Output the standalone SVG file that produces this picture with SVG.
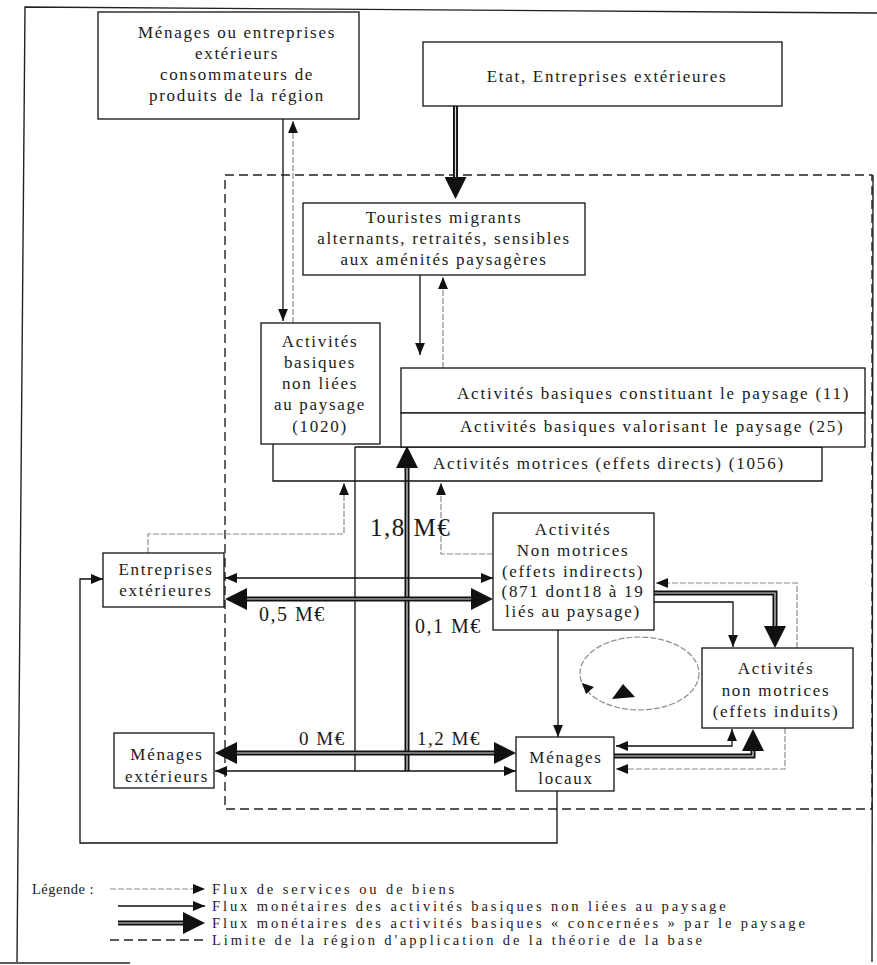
<svg xmlns="http://www.w3.org/2000/svg" width="877" height="965" viewBox="0 0 877 965">
<style>
.box{fill:#fff;stroke:#111;stroke-width:1.3}
.open{fill:none;stroke:#111;stroke-width:1.3}
.t{font-family:"Liberation Serif","Times New Roman",serif;font-size:17px;letter-spacing:1.7px;fill:#1a1a1a;text-anchor:middle}
.ts{font-family:"Liberation Serif","Times New Roman",serif;font-size:17px;letter-spacing:1.8px;fill:#1a1a1a}
.lg{font-family:"Liberation Serif","Times New Roman",serif;font-size:14.5px;letter-spacing:2.9px;fill:#1a1a1a}
.lgh{font-family:"Liberation Serif","Times New Roman",serif;font-size:14.5px;letter-spacing:0.5px;fill:#1a1a1a}
.mv{font-family:"Liberation Serif","Times New Roman",serif;letter-spacing:1.5px;fill:#1a1a1a}
.thin{fill:none;stroke:#111;stroke-width:1.3}
.grey{fill:none;stroke:#8c8c8c;stroke-width:1.2;stroke-dasharray:6 2}
.thk{fill:none;stroke:#111;stroke-width:5}
.thkin{fill:none;stroke:#ddd;stroke-width:1.2}
.region{fill:none;stroke:#222;stroke-width:1.4;stroke-dasharray:9 5}
.frame{fill:none;stroke:#222;stroke-width:1.4}
</style>
<defs>
<marker id="ah" markerUnits="userSpaceOnUse" markerWidth="12" markerHeight="10" viewBox="0 0 11 9" refX="11" refY="4.5" orient="auto-start-reverse"><path d="M0,0 L11,4.5 L0,9 z" fill="#111"/></marker>
<marker id="bh" markerUnits="userSpaceOnUse" markerWidth="22" markerHeight="22" viewBox="0 0 22 22" refX="0" refY="11" orient="auto-start-reverse"><path d="M0,0 L22,11 L0,22 z" fill="#111"/></marker>
</defs>
<rect width="877" height="965" fill="#fff"/>

<g id="frame">
<path class="frame" d="M17,962 L25,7 L877,13"/>
<path class="frame" d="M873,175 L872,962"/>
<path class="frame" d="M0,963 H130"/>
<rect id="region" class="region" x="225" y="175" width="647" height="634"/>
</g>

<g id="connectors">
<path class="thin" d="M283,119 V321" marker-end="url(#ah)"/>
<path class="grey" d="M293,323 V121" marker-end="url(#ah)"/>
<path class="thk" d="M455.5,106 V177" marker-end="url(#bh)"/>
<path class="thkin" d="M455.5,106 V177"/>
<path class="thin" d="M420,275 V355" marker-end="url(#ah)"/>
<path class="grey" d="M443,368 V277" marker-end="url(#ah)"/>
<path class="thin" d="M355,447 V771"/>
<path class="thk" d="M407,771 V468" marker-end="url(#bh)"/>
<path class="thkin" d="M407,771 V468"/>
<path class="thin" d="M225,578 H493" marker-start="url(#ah)" marker-end="url(#ah)"/>
<path class="thk" d="M247,599 H471" marker-start="url(#bh)" marker-end="url(#bh)"/>
<path class="thkin" d="M247,599 H471"/>
<path class="thk" d="M237,753 H494" marker-start="url(#bh)" marker-end="url(#bh)"/>
<path class="thkin" d="M237,753 H494"/>
<path class="thin" d="M215,771 H516" marker-start="url(#ah)" marker-end="url(#ah)"/>
<path class="thin" d="M558,630 V737" marker-end="url(#ah)"/>
<path class="thin" d="M557,791 V843 H80 V579 H103" marker-end="url(#ah)"/>
<path class="grey" d="M148,553 V534 H344 V483" marker-end="url(#ah)"/>
<path class="grey" d="M493,554 H441 V483" marker-end="url(#ah)"/>
<path class="grey" d="M797,648 V583 H656" marker-end="url(#ah)"/>
<path class="thk" d="M654,593 H775 V626" marker-end="url(#bh)"/>
<path class="thkin" d="M654,593 H775 V626"/>
<path class="thin" d="M654,602 H733 V647" marker-end="url(#ah)"/>
<path class="thin" d="M616,746 H732 V729" marker-start="url(#ah)" marker-end="url(#ah)"/>
<path class="thk" d="M614,756 H753 V751" marker-end="url(#bh)"/>
<path class="thkin" d="M614,756 H753 V751"/>
<path class="grey" d="M785,728 V769 H616" marker-end="url(#ah)"/>
<ellipse class="grey" cx="639.5" cy="673.5" rx="59.5" ry="36.5"/>
<polygon points="582,683 594,687 586,694" fill="#111"/>
<polygon points="612,699 623,684 635,697" fill="#111"/>
</g>

<g id="labels">
<text class="mv" x="370" y="536" font-size="25">1,8 M€</text>
<text class="mv" x="259" y="621" font-size="20">0,5 M€</text>
<text class="mv" x="415" y="633" font-size="20">0,1 M€</text>
<text class="mv" x="299" y="745" font-size="19">0 M€</text>
<text class="mv" x="417" y="745" font-size="19">1,2 M€</text>
</g>

<g id="n-menages-ent-ext">
<rect class="box" x="98" y="12" width="261" height="107"/>
<text class="t" x="237" y="38">Ménages ou entreprises</text>
<text class="t" x="237" y="59">extérieurs</text>
<text class="t" x="237" y="80">consommateurs de</text>
<text class="t" x="237" y="101">produits de la région</text>
</g>

<g id="n-etat">
<rect class="box" x="423" y="42" width="359" height="64"/>
<text class="t" x="607" y="82">Etat, Entreprises extérieures</text>
</g>

<g id="n-touristes">
<rect class="box" x="303" y="203" width="282" height="72"/>
<text class="t" x="444" y="223">Touristes migrants</text>
<text class="t" x="444" y="244">alternants, retraités, sensibles</text>
<text class="t" x="444" y="265">aux aménités paysagères</text>
</g>

<g id="n-motrices">
<path class="open" d="M273,444 V481 H822 V447 H355"/>
<text class="ts" x="433" y="469">Activités motrices (effets directs) (1056)</text>
</g>

<g id="n-constituant">
<rect class="box" x="401" y="368" width="464" height="45"/>
<text class="ts" x="457" y="399">Activités basiques constituant le paysage (11)</text>
</g>

<g id="n-valorisant">
<rect class="box" x="401" y="413" width="464" height="34"/>
<text class="ts" x="460" y="432">Activités basiques valorisant le paysage (25)</text>
</g>

<g id="n-basiques-non-liees">
<rect class="box" x="261" y="323" width="119" height="121"/>
<text class="t" x="320" y="347">Activités</text>
<text class="t" x="320" y="368">basiques</text>
<text class="t" x="320" y="389">non liées</text>
<text class="t" x="320" y="410">au paysage</text>
<text class="t" x="320" y="432">(1020)</text>
</g>

<g id="n-entreprises-ext">
<rect class="box" x="103" y="553" width="121" height="54"/>
<text class="t" x="166" y="575">Entreprises</text>
<text class="t" x="166" y="596">extérieures</text>
</g>

<g id="n-non-motrices-indirects">
<rect class="box" x="493" y="513" width="161" height="117"/>
<text class="t" x="573" y="535">Activités</text>
<text class="t" x="573" y="556">Non motrices</text>
<text class="t" x="573" y="577">(effets indirects)</text>
<text class="t" x="573" y="597">(871 dont18 à 19</text>
<text class="t" x="573" y="617">liés au paysage)</text>
</g>

<g id="n-non-motrices-induits">
<rect class="box" x="702" y="648" width="151" height="80"/>
<text class="t" x="776" y="674">Activités</text>
<text class="t" x="776" y="696">non motrices</text>
<text class="t" x="776" y="717">(effets induits)</text>
</g>

<g id="n-menages-ext">
<rect class="box" x="114" y="733" width="100" height="55"/>
<text class="t" x="167" y="760">Ménages</text>
<text class="t" x="167" y="782">extérieurs</text>
</g>

<g id="n-menages-locaux">
<rect class="box" x="516" y="737" width="98" height="54"/>
<text class="t" x="566" y="763">Ménages</text>
<text class="t" x="566" y="784">locaux</text>
</g>

<g id="legend">
<text class="lgh" x="32" y="894">Légende :</text>
<path class="grey" d="M110,889 H205" marker-end="url(#ah)"/>
<path class="thin" d="M118,906 H205" marker-end="url(#ah)"/>
<path class="thk" d="M118,923 H183" marker-end="url(#bh)"/>
<path class="thkin" d="M118,923 H183"/>
<path class="region" d="M110,940 H205"/>
<text class="lg" x="212" y="894">Flux de services ou de biens</text>
<text class="lg" x="212" y="911">Flux monétaires des activités basiques non liées au paysage</text>
<text class="lg" x="212" y="928">Flux monétaires des activités basiques « concernées » par le paysage</text>
<text class="lg" x="212" y="945">Limite de la région d'application de la théorie de la base</text>
</g>
</svg>
